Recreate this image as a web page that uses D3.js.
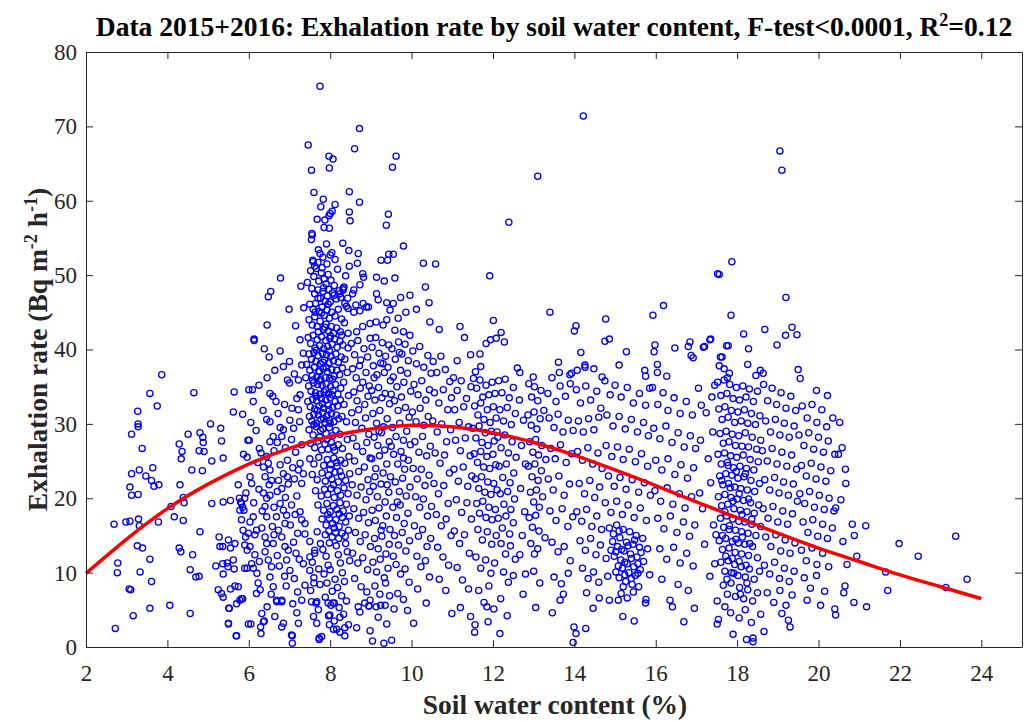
<!DOCTYPE html>
<html lang="en">
<head>
<meta charset="UTF-8">
<title>Exhalation rate by soil water content</title>
<script src="https://cdn.jsdelivr.net/npm/d3@7"></script>
<style>
  body { margin: 0; background: #fff; }
  svg text { font-family: "Liberation Serif", "Times New Roman", serif; }
  .axis .domain, .axis line { stroke: #262626; stroke-width: 1; }
  .axis text { fill: #262626; font-size: 23px; }
</style>
</head>
<body>
<div id="chart"></div>
<script>
// readings: [soil water content %, exhalation rate]
var ptsDry = [[3.86,36.6],[3.57,34.1],[4.65,34.2],[3.75,32.4],[3.27,31.7],[3.28,30.0],[3.28,29.6],[3.12,28.6],[3.38,26.7],[5.06,30.0],[5.31,29.4],[5.62,31.6],[5.85,31.3],[4.51,28.6],[4.8,28.8],[4.87,28.2],[4.88,27.5],[4.29,27.3],[4.36,26.3],[4.34,25.3],[4.78,26.4],[4.9,26.3],[5.33,27.7],[5.37,25.4],[5.09,25.0],[5.87,25.9],[5.96,25.5],[5.98,27.8],[6.0,34.6],[3.12,23.3],[3.31,23.8],[3.64,24.1],[3.47,23.0],[3.61,22.4],[3.67,21.6],[3.79,21.8],[3.08,21.5],[3.12,20.4],[3.28,20.5],[4.31,21.8],[4.6,23.8],[4.86,23.7],[4.39,20.1],[4.41,19.4],[4.09,18.9],[4.17,17.5],[4.39,17.0],[3.78,16.8],[2.69,16.5],[2.98,16.8],[3.08,16.9],[3.29,17.2],[3.31,16.3],[5.09,19.3],[5.37,19.5],[5.55,19.7],[4.8,15.5],[3.26,13.6],[3.39,13.3],[4.29,13.3],[4.33,12.8],[4.62,12.4],[3.57,11.8],[2.78,11.3],[2.77,10.0],[3.33,10.1],[3.61,8.8],[4.56,10.4],[4.7,9.4],[4.78,9.5],[3.06,7.8],[3.1,7.7],[3.57,5.2],[3.16,4.2],[2.72,2.5],[4.06,5.6],[4.56,4.5],[5.27,14.8],[5.5,14.4],[5.29,13.5],[5.36,13.5],[5.55,13.3],[5.19,10.9],[5.36,11.2],[5.47,11.3],[5.49,10.8],[5.64,10.5],[5.37,9.8],[5.25,7.7],[5.33,7.2],[5.37,6.7],[5.55,7.8],[5.66,8.2],[5.51,5.2],[5.7,5.8],[5.78,6.3],[5.85,6.5],[5.5,3.2],[5.69,1.5],[5.8,19.5],[5.85,18.8],[5.88,18.4],[5.9,20.0],[5.93,20.7],[5.82,17.1],[5.86,15.7],[5.92,14.8],[5.9,13.7],[5.96,13.0],[5.96,10.6],[5.66,13.9],[5.62,11.7],[5.74,8.1],[5.82,6.5],[5.9,10.6],[5.74,21.8],[5.77,20.0],[5.82,19.3],[5.78,18.4],[5.64,34.3],[5.5,3.1],[5.7,1.5],[5.52,5.2]];

var ptsRise = [[6.13,41.2],[6.38,40.1],[6.77,39.8],[6.85,37.7],[6.64,37.2],[6.45,36.2],[6.95,35.9],[7.0,35.5],[6.09,34.6],[6.11,33.0],[6.52,34.1],[6.59,33.7],[6.67,33.0],[6.44,30.6],[6.52,30.3],[7.01,30.5],[6.77,29.5],[6.85,29.2],[6.6,28.3],[6.52,27.6],[6.81,28.3],[6.01,27.8],[6.26,26.7],[6.44,25.6],[6.48,24.7],[6.36,24.2],[6.52,23.8],[6.4,22.9],[6.56,22.4],[6.5,21.8],[6.77,24.5],[6.85,23.3],[6.73,22.4],[6.95,22.9],[6.97,21.9],[6.81,21.3],[6.03,22.9],[6.07,22.0],[6.03,16.8],[6.11,17.5],[6.19,15.7],[5.99,15.3],[6.15,15.1],[6.32,16.0],[6.36,20.7],[6.44,20.0],[6.52,20.4],[6.4,18.9],[6.44,17.5],[6.77,19.3],[6.85,18.4],[6.93,17.7],[6.68,17.5],[6.89,16.6],[6.73,15.7],[6.81,14.8],[6.89,13.5],[6.6,13.9],[6.4,14.8],[6.44,13.9],[6.4,12.8],[6.48,11.7],[6.52,9.4],[6.56,10.8],[6.97,13.0],[6.93,11.7],[7.01,10.3],[6.03,13.5],[6.07,11.2],[6.11,10.6],[6.23,8.6],[6.28,7.7],[6.19,7.2],[6.32,4.5],[6.29,2.7],[6.36,3.4],[6.6,8.1],[6.68,6.3],[6.81,6.3],[6.85,3.2],[6.81,2.7],[6.64,4.1],[7.05,1.6],[7.07,0.5],[7.07,1.5],[7.22,3.2],[6.3,1.8],[6.38,3.5],[5.99,3.1],[6.05,3.1],[6.69,6.1],[6.81,6.1],[7.3,6.3],[7.38,8.3],[7.34,11.2],[7.38,16.6],[7.3,17.1],[7.26,18.2],[7.38,15.2],[7.3,22.0],[7.34,23.3],[7.26,24.7],[7.22,23.8],[7.3,27.2],[7.22,31.9],[7.26,33.9],[7.22,35.9],[7.3,37.9],[7.34,39.5],[7.26,41.3],[6.78,49.6],[6.54,47.8],[6.48,47.1],[6.99,45.4],[6.45,43.3],[6.13,41.4],[6.05,30.2],[6.18,29.1],[6.22,24.8],[6.3,26.1],[6.12,19.4],[6.25,21.2],[6.33,18.3],[6.15,12.4],[6.26,11.5],[6.2,9.9],[6.62,26.4],[6.7,27.5],[6.9,26.8],[6.95,25.1],[7.05,27.9],[7.1,29.4],[7.15,26.2],[7.08,24.1],[7.12,22.6],[7.18,20.3],[7.05,19.1],[7.14,17.8],[7.02,16.4],[7.2,15.3],[7.1,14.1],[7.16,12.6],[7.24,11.8],[7.12,9.2],[7.2,7.4],[7.08,5.8],[7.18,4.6],[6.58,16.2],[6.62,15.1],[6.7,12.3],[6.75,10.9],[6.88,9.5],[6.92,8.2],[6.55,7.1],[6.45,5.4],[6.7,20.9],[6.62,18.8],[6.9,20.1],[7.0,38.4],[7.12,36.7],[7.18,33.4],[7.06,32.1],[7.25,30.3],[7.15,43.2],[7.35,45.6],[7.28,48.5],[6.88,32.6],[6.72,31.4],[6.35,31.8],[6.25,35.2],[6.5,39.0]];

var ptsPeak = [[7.75,75.4],[7.46,67.5],[7.97,66.0],[8.07,65.6],[7.54,64.1],[7.98,64.4],[7.6,61.1],[8.47,61.2],[7.83,60.2],[7.77,59.2],[8.12,59.5],[8.0,58.3],[8.05,58.6],[7.97,58.0],[8.47,58.5],[8.49,57.3],[7.68,57.5],[7.87,57.4],[7.85,56.4],[7.98,56.3],[7.55,55.6],[7.56,55.4],[7.54,54.8],[7.57,52.0],[7.58,51.8],[7.71,53.4],[7.75,52.9],[7.91,54.2],[8.04,53.0],[8.0,52.7],[8.31,54.3],[8.46,53.3],[8.47,51.2],[8.34,48.4],[8.32,48.0],[8.24,47.5],[8.26,47.0],[8.43,46.9],[8.36,46.2],[8.44,45.5],[8.44,42.2],[8.28,41.9],
[7.52,50.6],[7.6,49.8],[7.66,50.9],[7.72,49.2],[7.78,50.3],[7.85,49.5],[7.9,48.8],[7.95,50.1],[8.02,49.3],[8.1,48.6],[7.55,48.2],[7.62,47.5],[7.7,48.0],[7.76,46.9],[7.82,47.8],[7.88,46.5],[7.93,47.2],[8.0,46.4],[8.06,47.6],[8.15,46.8],[8.22,47.9],[7.5,46.1],[7.58,45.4],[7.64,46.2],[7.73,45.1],[7.8,45.7],[7.86,44.6],[7.92,45.3],[7.98,44.2],[8.04,45.0],[8.12,44.5],[8.2,45.4],[8.28,44.1],[7.48,44.0],[7.56,43.3],[7.62,44.4],[7.68,43.1],[7.75,43.8],[7.83,42.7],[7.9,43.4],[7.96,42.5],[8.03,43.1],[8.08,42.2],[8.16,42.9],[8.25,42.4],[8.35,43.6],[8.4,45.8],[8.32,48.2],[8.38,49.9],[7.44,49.0],[7.7,51.7],[7.92,51.5],[8.18,50.8],[8.12,52.1],[7.82,52.4],
[7.46,41.6],[7.52,40.8],[7.58,41.9],[7.63,40.2],[7.68,41.3],[7.74,40.5],[7.79,41.7],[7.84,40.1],[7.89,41.2],[7.94,40.4],[7.99,41.5],[8.05,40.7],[8.11,41.4],[8.17,40.3],[8.24,41.1],[8.31,40.6],[7.48,39.4],[7.54,38.7],[7.6,39.6],[7.65,38.4],[7.7,39.2],[7.76,38.1],[7.81,39.5],[7.86,38.6],[7.91,39.3],[7.97,38.2],[8.02,39.1],[8.08,38.5],[8.14,39.4],[8.2,38.3],[8.27,39.0],[8.36,38.7],[7.5,37.2],[7.56,36.5],[7.61,37.6],[7.67,36.3],[7.72,37.1],[7.77,36.0],[7.83,37.4],[7.88,36.2],[7.93,37.0],[7.99,36.1],[8.04,37.3],[8.1,36.4],[8.16,37.2],[8.23,36.6],[8.3,37.5],[8.42,36.9],[7.47,35.1],[7.53,34.4],[7.59,35.5],[7.64,34.2],[7.69,35.3],[7.75,34.0],[7.8,35.2],[7.85,34.3],[7.9,35.4],[7.96,34.1],[8.01,35.0],[8.07,34.5],[8.13,35.3],[8.19,34.0],[8.26,34.8],[8.33,35.6],[7.45,33.0],[7.51,32.3],[7.57,33.3],[7.62,32.0],[7.67,33.1],[7.73,32.4],[7.78,33.4],[7.84,32.1],[7.89,33.2],[7.95,32.5],[8.0,33.5],[8.06,32.2],[8.12,33.0],[8.18,32.4],[8.25,33.2],[8.34,32.6],[7.49,31.0],[7.55,30.4],[7.6,31.3],[7.66,30.1],[7.71,31.2],[7.77,30.6],[7.82,31.5],[7.87,30.2],[7.92,31.1],[7.98,30.5],[8.03,31.4],[8.09,30.3],[8.15,31.2],[8.21,30.7],[8.29,31.0],[8.4,30.3],[8.45,33.8],[8.44,40.2],[7.42,38.0],[7.4,36.2],
[7.48,29.2],[7.58,28.5],[7.66,29.6],[7.74,28.2],[7.82,29.3],[7.9,28.7],[7.98,29.5],[8.06,28.4],[8.14,29.1],[8.24,28.6],[7.52,27.4],[7.62,26.8],[7.7,27.7],[7.79,26.5],[7.87,27.3],[7.95,26.6],[8.03,27.5],[8.11,26.4],[8.2,27.2],[8.3,26.7],[8.42,27.9],[7.5,25.3],[7.6,24.6],[7.72,25.5],[7.84,24.4],[7.93,25.2],[8.01,24.5],[8.09,25.4],[8.17,24.3],[8.26,25.1],[8.36,24.7],[8.46,25.6],[7.56,23.2],[7.68,22.5],[7.8,23.4],[7.88,22.3],[7.96,23.1],[8.04,22.6],[8.12,23.5],[8.2,22.2],[8.28,23.0],[8.38,22.4],[8.48,23.3],[7.64,21.0],[7.78,20.3],[7.86,21.2],[7.94,20.5],[8.02,21.3],[8.1,20.1],[8.18,21.0],[8.26,20.4],[8.34,21.4],[8.44,20.6],[7.7,19.1],[7.84,18.4],[7.92,19.3],[8.0,18.2],[8.08,19.0],[8.16,18.5],[8.24,19.4],[8.32,18.3],[8.4,19.2],[7.8,17.2],[7.9,16.4],[7.98,17.3],[8.06,16.6],[8.14,17.1],[8.22,16.2],[8.3,17.4],[8.38,16.8],[8.47,17.6],[7.88,15.1],[7.97,15.6],[8.05,14.8],[8.13,15.4],[8.21,14.6],[8.29,15.3],[8.37,14.9],[8.45,15.7],
[7.5,14.2],[7.62,12.6],[7.56,11.4],[7.72,10.5],[7.6,9.3],[7.75,8.4],[7.52,7.6],[7.67,6.1],[7.59,4.1],[7.71,5.0],[7.65,5.9],[7.73,1.2],[7.79,1.4],[7.67,3.2],[7.82,13.1],[7.9,12.2],[7.95,11.0],[7.85,9.8],[8.0,10.4],[7.92,8.6],[8.05,7.5],[7.88,6.7],[8.02,5.6],[7.96,4.2],[8.1,3.5],[8.15,13.6],[8.2,12.4],[8.25,11.3],[8.12,9.1],[8.3,10.0],[8.18,8.0],[8.35,8.8],[8.28,6.9],[8.22,5.3],[8.4,6.2],[8.33,4.4],[8.45,3.0],[8.42,12.8],[8.48,11.6],[8.38,13.9],[8.08,2.4],[8.24,2.0],[8.36,1.5],[7.98,14.0],[7.76,13.9],[7.98,3.0],[8.16,2.4],[8.24,4.0],[8.36,2.6],[7.73,1.0],[7.99,4.3],[8.07,5.9],[7.54,6.1],[7.95,5.9],[8.1,5.9],[7.5,12.1],[7.5,10.3],[7.6,8.6],[7.62,13.0],[7.68,15.5]];

var ptsMidA = [[8.72,69.7],[8.6,67.0],[8.69,52.9],[8.67,51.6],[8.82,49.7],[8.94,45.7],[8.73,45.2],[8.58,45.0],[9.62,66.0],[9.53,64.5],[9.43,58.2],[9.38,56.7],[9.25,52.0],[9.41,52.0],[9.44,52.8],[9.55,52.8],[9.8,53.9],[10.29,51.6],[10.59,51.5],[9.14,49.7],[9.33,49.2],[9.59,49.6],[10.34,48.4],[10.43,46.3],[9.96,47.3],[9.73,47.0],[10.45,43.7],[10.68,42.7],[10.12,45.4],[9.86,45.0],[8.72,59.8],[8.8,50.2],[8.58,48.0],[8.55,47.5],[8.73,48.7],[8.63,46.0],[8.81,46.2],[8.89,45.7],[9.14,47.5],[9.18,46.7],[9.39,46.3],[9.55,46.2],[9.47,45.3],[9.67,44.2],[9.39,44.0],[9.13,43.7],[8.98,43.5],[8.8,43.1],[8.65,42.4],[9.59,42.6],[9.8,42.4],[9.96,41.9],[9.3,43.3],[8.65,2.6],[8.69,5.4],[8.73,4.7],
[8.52,40.8],[8.6,39.3],[8.68,41.2],[8.75,38.6],[8.83,40.1],[8.92,39.0],[8.98,41.5],[8.55,37.4],[8.64,36.2],[8.72,37.8],[8.8,35.6],[8.88,36.9],[8.96,35.1],[8.58,34.3],[8.66,33.1],[8.74,34.8],[8.85,32.6],[8.93,33.7],[8.53,31.5],[8.62,30.2],[8.7,31.9],[8.78,29.4],[8.87,30.8],[8.95,28.6],[8.56,28.1],[8.65,27.0],[8.8,26.3],[8.9,27.5],[8.98,25.4],[8.6,25.0],[8.7,23.6],[8.84,24.2],[8.93,22.5],[8.54,21.8],[8.66,20.4],[8.76,21.5],[8.88,19.8],[8.97,20.9],[8.58,18.6],[8.7,17.3],[8.82,18.1],[8.94,16.7],[8.62,15.4],[8.74,14.2],[8.86,15.1],[8.99,13.5],[8.55,12.6],[8.68,11.3],[8.8,12.0],[8.92,10.4],[8.6,9.2],[8.76,8.1],[8.9,7.4],[8.85,5.9],[8.98,6.3],[8.95,5.5],
[9.03,40.3],[9.12,41.6],[9.2,39.5],[9.28,40.9],[9.36,39.1],[9.44,40.6],[9.06,37.8],[9.15,36.6],[9.24,38.2],[9.33,36.9],[9.42,37.6],[9.48,35.8],[9.02,34.5],[9.1,33.2],[9.19,34.9],[9.27,33.5],[9.35,34.1],[9.46,32.7],[9.05,31.4],[9.14,30.1],[9.22,31.8],[9.31,29.6],[9.4,30.7],[9.08,28.2],[9.17,27.1],[9.26,28.8],[9.34,26.5],[9.45,27.6],[9.02,25.3],[9.12,24.0],[9.21,25.7],[9.3,23.4],[9.39,24.6],[9.48,22.9],[9.06,21.6],[9.16,20.2],[9.25,21.9],[9.35,19.5],[9.44,20.8],[9.03,18.4],[9.11,17.0],[9.2,18.7],[9.29,16.3],[9.38,17.6],[9.47,15.8],[9.09,14.6],[9.18,13.2],[9.27,14.9],[9.37,12.5],[9.45,13.8],[9.05,11.4],[9.14,10.1],[9.23,11.8],[9.33,9.3],[9.42,10.6],[9.1,8.2],[9.22,7.1],[9.36,8.6],[9.46,6.9],[9.13,5.4],[9.24,5.6],[9.35,5.6],[8.98,2.2],[9.04,0.8],[9.32,0.5],[9.51,0.9],[9.18,4.0],[9.39,3.1],[8.95,5.5],
[9.52,40.1],[9.6,38.7],[9.68,41.0],[9.76,39.4],[9.84,40.7],[9.92,38.5],[9.55,36.3],[9.64,35.0],[9.73,37.2],[9.81,35.6],[9.9,36.8],[9.98,34.4],[9.58,33.1],[9.67,31.8],[9.75,33.6],[9.85,32.2],[9.94,30.9],[9.53,29.5],[9.62,28.3],[9.71,30.1],[9.8,27.8],[9.88,29.0],[9.97,27.2],[9.56,25.9],[9.66,24.6],[9.74,26.3],[9.83,23.9],[9.92,25.1],[9.6,22.2],[9.7,20.9],[9.78,22.7],[9.87,20.3],[9.96,21.5],[9.54,18.8],[9.63,17.4],[9.72,19.1],[9.82,16.6],[9.91,18.0],[9.58,15.0],[9.68,13.7],[9.77,15.4],[9.86,12.9],[9.95,14.3],[9.62,11.1],[9.73,9.8],[9.84,10.5],[9.94,8.7],[9.66,7.2],[9.8,6.4],[9.9,4.9],[9.57,5.1],
[10.03,39.8],[10.12,38.1],[10.2,40.4],[10.3,37.6],[10.4,39.2],[10.48,36.8],[10.06,35.3],[10.16,33.9],[10.25,35.8],[10.35,33.2],[10.44,34.6],[10.02,31.6],[10.11,30.3],[10.21,32.1],[10.3,29.8],[10.41,31.0],[10.08,27.6],[10.18,26.2],[10.27,28.3],[10.37,25.7],[10.46,27.0],[10.04,24.0],[10.14,22.6],[10.24,23.9],[10.33,21.7],[10.43,23.1],[10.1,20.2],[10.2,18.8],[10.29,19.9],[10.39,17.6],[10.49,18.9],[10.07,16.3],[10.17,14.9],[10.27,15.8],[10.38,13.5],[10.47,14.6],[10.13,12.2],[10.23,10.8],[10.34,11.6],[10.44,9.4],[10.15,7.8],[10.36,5.9],[10.05,3.2],
[10.53,38.4],[10.62,36.9],[10.72,39.1],[10.83,37.3],[10.94,35.7],[10.56,34.2],[10.67,32.8],[10.78,34.6],[10.89,31.9],[10.98,33.5],[10.52,30.4],[10.63,28.9],[10.74,30.0],[10.86,27.6],[10.96,29.2],[10.58,26.1],[10.7,24.7],[10.81,25.8],[10.93,23.4],[10.55,22.0],[10.66,20.6],[10.79,21.7],[10.9,19.3],[10.61,17.8],[10.73,16.3],[10.85,17.2],[10.97,15.0],[10.64,13.4],[10.77,12.1],[10.91,11.0],[10.68,9.1],[10.84,7.6],[10.99,4.5]];

var ptsMidB = [[11.19,43.1],[11.92,49.9],[12.39,57.1],[13.1,63.3],[13.4,45.0],[12.01,43.9],[11.83,40.8],[11.94,41.3],[12.08,41.5],[11.68,39.4],[11.7,37.7],[11.57,37.0],[13.61,38.3],[13.63,36.9],[12.66,36.9],[12.99,36.3],[13.89,36.6],[13.93,36.8],[11.3,41.6],[11.45,39.3],[11.12,38.5],[12.2,42.3],[12.28,41.0],
[11.03,36.2],[11.12,34.5],[11.22,35.8],[11.35,33.4],[11.46,35.0],[11.06,31.9],[11.17,30.2],[11.28,32.3],[11.4,29.6],[11.08,27.8],[11.2,26.4],[11.32,28.1],[11.44,25.7],[11.04,23.9],[11.15,22.3],[11.27,24.2],[11.38,21.6],[11.48,23.0],[11.1,19.8],[11.23,18.1],[11.36,19.4],[11.47,17.2],[11.05,15.6],[11.18,13.9],[11.3,15.1],[11.42,12.6],[11.12,10.7],[11.25,9.0],[11.4,7.8],[11.2,5.3],[11.45,4.1],
[11.52,36.1],[11.6,34.8],[11.68,35.9],[11.75,33.6],[11.83,35.2],[11.9,33.9],[11.98,35.6],[12.05,34.1],[11.55,32.4],[11.63,31.2],[11.7,32.8],[11.78,30.6],[11.86,31.9],[11.93,30.2],[12.01,32.3],[12.08,30.8],[11.5,29.4],[11.58,28.1],[11.66,29.7],[11.73,27.5],[11.81,28.8],[11.88,27.1],[11.96,29.0],[12.03,27.7],[12.1,28.9],[11.54,26.0],[11.62,24.8],[11.7,26.3],[11.77,24.2],[11.85,25.6],[11.92,24.0],[12.0,25.9],[12.07,24.5],[11.57,22.6],[11.65,21.3],[11.72,22.9],[11.8,20.8],[11.87,22.2],[11.95,20.5],[12.02,22.0],[12.1,21.1],[11.6,19.3],[11.67,18.0],[11.75,19.6],[11.83,17.4],[11.9,18.8],[11.98,17.1],[12.06,18.5],[11.63,15.8],[11.74,14.4],[11.86,15.5],[11.97,13.8],[12.08,15.0],[11.58,12.1],[11.7,10.6],[11.82,11.7],[11.95,9.9],[12.04,11.3],[11.65,7.6],[11.78,6.0],[11.9,8.2],[12.02,5.1],[11.55,2.0],[11.88,3.4],[11.56,3.0],[11.85,5.4],
[12.14,35.8],[12.22,34.2],[12.3,36.0],[12.4,33.5],[12.5,34.9],[12.17,31.9],[12.26,30.4],[12.35,32.2],[12.45,29.9],[12.55,31.4],[12.12,28.2],[12.2,26.8],[12.29,28.5],[12.38,26.1],[12.47,27.6],[12.57,25.5],[12.15,24.3],[12.24,22.8],[12.33,24.6],[12.42,22.1],[12.51,23.4],[12.18,20.6],[12.27,19.2],[12.36,20.9],[12.44,18.5],[12.53,19.9],[12.13,17.3],[12.23,16.0],[12.32,17.6],[12.41,15.2],[12.5,16.7],[12.2,13.9],[12.31,12.5],[12.43,13.6],[12.55,11.8],[12.26,10.1],[12.38,8.7],[12.5,9.6],[12.17,1.8],[12.19,6.5],[12.35,4.2],[12.6,37.5],
[12.65,33.2],[12.75,30.5],[12.7,27.1],[12.8,24.6],[12.68,21.3],[12.78,18.2],[12.72,15.0],[12.66,12.4],[12.8,9.8],[12.74,7.1],[12.88,35.4],[12.95,33.6],[13.02,35.0],[13.1,33.1],[13.18,34.5],[12.86,31.2],[12.94,29.8],[13.01,31.6],[13.08,29.3],[13.16,30.7],[12.9,27.6],[12.98,26.2],[13.05,27.9],[13.12,25.8],[13.2,27.1],[12.87,24.3],[12.96,22.9],[13.03,24.6],[13.11,22.4],[13.19,23.7],[12.92,20.8],[13.0,19.5],[13.07,21.1],[13.14,18.8],[13.22,20.2],[12.89,17.4],[12.97,16.1],[13.05,17.7],[13.13,15.6],[12.93,13.9],[13.02,12.5],[13.1,13.2],[13.0,10.2],[13.15,8.6],[13.05,5.3],[13.28,14.7],[13.3,25.2],[13.25,31.8],
[13.35,34.1],[13.45,36.2],[13.55,33.0],[13.65,35.1],[13.78,33.7],[13.9,35.4],[13.38,30.8],[13.5,29.5],[13.6,31.3],[13.72,28.9],[13.85,30.5],[13.97,29.1],[13.42,26.7],[13.53,25.3],[13.66,27.2],[13.8,24.8],[13.93,26.0],[13.36,22.6],[13.48,21.1],[13.62,23.0],[13.75,20.4],[13.88,21.9],[13.4,18.3],[13.55,17.0],[13.7,18.6],[13.84,16.2],[13.96,17.5],[13.45,14.1],[13.6,12.8],[13.75,13.5],[13.9,11.6],[13.5,9.4],[13.68,8.5],[13.85,9.9],[13.46,4.6],[13.65,6.3],[13.73,7.1]];

var ptsMidC = [[14.22,71.4],[14.04,43.2],[14.0,42.5],[14.77,44.1],[15.93,44.6],[16.19,45.9],[14.75,41.1],[14.86,41.4],[14.16,39.6],[15.28,39.7],[15.1,37.9],[15.98,40.6],[15.96,39.7],[16.04,38.0],[16.04,36.9],[15.73,37.2],[15.75,36.4],[16.27,36.4],[16.47,40.2],[16.8,40.4],[16.84,41.0],[16.87,39.2],[16.92,38.9],[14.07,37.2],[14.26,37.9],[14.26,37.6],[14.48,37.4],[14.68,36.3],
[14.05,34.6],[14.15,32.8],[14.28,35.1],[14.4,33.2],[14.55,34.4],[14.65,32.1],[14.1,30.4],[14.22,28.9],[14.35,30.7],[14.48,29.2],[14.6,30.9],[14.08,26.3],[14.2,25.1],[14.33,26.8],[14.45,24.6],[14.58,26.1],[14.68,24.0],[14.12,22.0],[14.25,20.6],[14.38,22.4],[14.5,20.1],[14.62,21.5],[14.06,18.2],[14.18,16.9],[14.3,18.5],[14.43,16.2],[14.55,17.6],[14.67,15.8],[14.14,14.3],[14.27,13.0],[14.4,14.6],[14.53,12.4],[14.64,13.7],[14.2,10.6],[14.34,9.2],[14.47,10.1],[14.6,8.7],[14.3,7.3],[13.99,2.7],[14.04,1.8],[13.97,0.6],[14.28,2.5],[14.46,5.2],[14.61,6.6],
[14.75,35.8],[14.88,33.9],[15.0,35.2],[15.15,33.6],[15.3,34.9],[15.45,32.8],[15.6,34.1],[15.75,32.5],[15.85,34.8],[14.8,31.2],[14.95,29.7],[15.1,31.0],[15.25,29.3],[15.4,30.6],[15.55,28.9],[15.7,30.2],[15.82,28.4],[14.78,27.1],[14.92,25.6],[15.06,26.9],[15.2,25.2],[15.35,26.6],[15.5,24.9],[15.65,26.0],[15.8,24.3],[14.84,23.0],[14.98,21.6],[15.12,22.8],[15.27,21.2],[15.42,22.5],[15.58,20.8],[15.72,22.1],[15.87,20.4],[14.76,19.4],[14.9,18.1],[15.04,19.6],[15.18,17.8],[15.32,19.1],[15.47,17.4],[15.62,18.7],[15.77,17.0],[14.86,16.0],[14.96,15.2],[15.04,16.4],[15.12,14.7],[15.2,15.8],[15.28,14.1],[15.36,15.5],[15.44,13.8],[15.52,15.0],[15.6,13.4],[15.68,14.6],[14.9,13.0],[14.98,12.2],[15.06,13.5],[15.14,11.7],[15.22,12.9],[15.3,11.2],[15.38,12.5],[15.46,10.8],[15.54,12.1],[15.62,10.4],[15.02,10.1],[15.1,9.3],[15.18,10.6],[15.26,8.8],[15.34,10.0],[15.42,8.4],[15.5,9.6],[15.58,8.1],[15.15,7.2],[15.3,6.6],[15.45,7.4],[14.86,6.3],[15.08,6.3],[15.19,4.1],[15.47,3.5],[15.75,5.9],[15.76,6.4],[15.7,11.5],[15.8,13.2],[15.85,9.7],[14.82,9.5],[14.78,11.9],
[15.92,34.9],[16.05,32.6],[16.18,34.2],[16.3,31.8],[16.45,33.5],[16.6,31.4],[16.75,33.0],[16.9,31.2],[15.95,29.4],[16.1,28.0],[16.25,29.7],[16.4,27.5],[16.55,28.8],[16.7,26.9],[16.85,28.4],[16.98,26.7],[16.0,25.1],[16.15,23.8],[16.3,25.3],[16.47,23.2],[16.62,24.5],[16.78,22.7],[16.93,24.1],[15.98,21.0],[16.12,19.6],[16.28,21.4],[16.42,19.2],[16.58,20.6],[16.72,18.7],[16.88,20.2],[16.05,17.3],[16.2,15.9],[16.36,17.6],[16.52,15.4],[16.68,16.8],[16.83,14.9],[16.96,16.4],[16.1,13.2],[16.27,11.8],[16.44,13.4],[16.6,11.3],[16.76,12.6],[16.92,10.9],[16.15,9.1],[16.35,6.3],[16.41,5.4],[16.55,8.4],[16.69,3.4],[16.8,7.6],[16.95,5.2]];

var ptsWet = [[17.52,50.2],[19.05,66.7],[19.1,64.1],[17.87,51.8],[17.56,50.1],[19.2,47.0],[17.85,44.6],[18.16,42.1],[18.68,42.7],[19.19,41.9],[19.35,43.0],[19.47,42.0],[18.98,40.6],[17.17,40.3],[17.33,41.3],[17.74,40.5],[17.78,40.5],[18.28,40.1],[17.63,39.0],[17.56,37.8],[17.68,37.4],[17.81,36.8],[17.76,36.2],[18.26,38.0],[18.57,37.2],[18.64,36.8],[18.46,36.5],[19.5,37.3],[17.2,40.4],[17.35,41.4],[17.59,39.0],
[17.05,34.8],[17.12,32.5],[17.24,31.5],[17.38,33.6],[17.45,35.2],[17.29,25.3],[17.1,27.8],[17.4,28.9],[17.08,20.7],[17.15,18.6],[17.35,22.1],[17.42,16.4],[17.2,13.8],[17.33,9.5],[17.45,11.2],[17.51,6.2],[17.54,3.7],[17.51,3.1],[17.48,15.1],
[17.52,35.6],[17.6,33.8],[17.68,35.9],[17.75,34.1],[17.82,35.3],[17.9,33.4],[17.98,34.9],[18.06,33.2],[18.14,35.1],[18.22,33.6],[18.3,34.7],[18.4,33.0],[18.5,34.4],[17.55,32.0],[17.63,30.6],[17.7,32.3],[17.78,30.9],[17.86,31.8],[17.94,30.2],[18.02,31.6],[18.1,30.4],[18.18,31.9],[18.26,30.1],[18.35,31.4],[18.45,29.9],[18.56,31.1],[17.58,28.7],[17.66,27.4],[17.73,29.0],[17.8,27.6],[17.88,28.6],[17.96,27.1],[18.04,28.4],[18.12,27.0],[18.2,28.8],[18.28,26.9],[18.37,28.2],[18.48,26.6],[18.58,27.8],[17.53,25.9],[17.61,24.6],[17.69,26.1],[17.76,24.8],[17.84,25.7],[17.91,24.1],[17.99,25.5],[18.07,24.3],[18.15,25.8],[18.23,24.0],[18.32,25.2],[18.41,23.8],[18.52,24.9],[17.57,23.0],[17.65,21.8],[17.72,23.3],[17.79,22.0],[17.87,23.1],[17.94,21.5],[18.02,22.7],[18.09,21.3],[18.17,22.9],[18.25,21.1],[18.34,22.4],[18.43,20.9],[18.55,22.0],[17.54,20.2],[17.62,19.0],[17.7,20.5],[17.77,19.2],[17.85,20.1],[17.92,18.6],[18.0,19.9],[18.08,18.4],[18.16,19.7],[18.24,18.2],[18.33,19.4],[18.42,18.0],[18.53,19.1],[17.59,17.3],[17.67,16.1],[17.74,17.6],[17.81,16.3],[17.89,17.2],[17.96,15.7],[18.04,16.9],[18.11,15.5],[18.19,16.8],[18.27,15.3],[18.36,16.5],[18.46,15.0],[18.58,16.2],[17.56,14.3],[17.64,13.1],[17.72,14.6],[17.8,13.3],[17.88,14.2],[17.95,12.7],[18.03,14.0],[18.11,12.5],[18.19,13.8],[18.28,12.3],[18.38,13.5],[18.5,12.0],[17.6,11.4],[17.7,10.2],[17.78,11.6],[17.86,10.0],[17.94,11.1],[18.02,9.6],[18.1,10.8],[18.2,9.4],[18.3,10.5],[18.42,9.1],[18.55,10.2],[17.66,8.3],[17.76,7.1],[17.85,8.6],[17.96,6.8],[18.06,8.0],[18.16,6.5],[18.26,7.7],[18.38,6.2],[18.5,7.3],[17.7,5.4],[17.9,1.7],[17.84,4.6],[18.05,3.9],[18.2,5.0],[18.39,1.2],[18.23,1.0],[18.39,0.7],[18.35,3.3],[18.58,4.4],
[18.65,35.3],[18.75,33.1],[18.86,34.8],[18.97,32.6],[19.08,34.2],[19.2,32.1],[19.32,33.7],[19.44,31.8],[18.7,30.4],[18.82,28.9],[18.94,30.6],[19.05,28.5],[19.16,30.1],[19.28,28.2],[19.4,29.7],[18.62,26.4],[18.74,25.0],[18.86,26.7],[18.98,24.6],[19.1,26.2],[19.22,24.3],[19.34,25.8],[19.46,23.9],[18.68,22.5],[18.8,21.1],[18.92,22.8],[19.03,20.7],[19.14,22.2],[19.26,20.4],[19.38,21.9],[19.48,19.6],[18.64,18.6],[18.76,17.3],[18.88,18.9],[19.0,16.8],[19.12,18.3],[19.24,16.5],[19.36,17.9],[18.7,14.8],[18.83,13.5],[18.95,15.1],[19.07,12.9],[19.18,14.4],[19.3,12.6],[19.42,14.0],[18.67,11.0],[18.8,9.8],[18.92,11.4],[19.04,9.2],[19.16,10.6],[19.28,8.8],[19.4,10.2],[18.74,7.3],[18.9,6.0],[19.05,7.6],[19.2,5.6],[19.35,7.0],[19.26,3.6],[19.3,2.7],[19.1,4.5],[18.66,2.1],
[19.55,36.1],[19.95,34.5],[20.22,33.8],[19.6,32.4],[19.72,30.8],[19.84,32.6],[19.96,30.2],[20.08,31.9],[20.2,29.6],[20.35,30.8],[19.52,28.5],[19.64,27.1],[19.76,28.8],[19.88,26.6],[20.0,28.2],[20.12,26.2],[20.24,27.7],[20.4,25.9],[19.58,24.4],[19.7,23.0],[19.82,24.7],[19.94,22.6],[20.06,24.2],[20.18,22.3],[20.3,23.7],[20.49,25.9],[19.54,20.6],[19.66,19.3],[19.78,20.9],[19.9,18.8],[20.02,20.4],[20.14,18.5],[20.26,20.0],[20.38,18.3],[20.42,18.7],[19.62,16.8],[19.74,15.4],[19.86,17.1],[19.98,14.9],[20.1,16.5],[20.22,14.6],[20.34,16.0],[19.58,13.0],[19.7,11.6],[19.84,13.3],[19.96,11.1],[20.1,12.6],[20.25,10.8],[19.65,9.3],[19.8,7.9],[19.95,9.6],[20.15,7.5],[19.72,6.3],[20.05,5.6],[20.4,5.1],[20.42,4.3],
[20.66,23.9],[20.67,22.0],[20.65,8.2],[20.62,7.3],[20.87,6.0],[21.18,5.4],[20.83,16.5],[20.88,15.0],[20.94,12.2],[21.16,16.3],[21.98,13.9],[22.45,12.2],[23.37,14.9],[23.65,9.1],[23.13,8.0],[21.7,7.6],[21.65,10.1],[20.55,19.8],[20.6,14.2],[20.7,11.1],[20.58,26.8],[20.52,30.2]];

// extra readings from the densest clusters
var ptsCore = [[7.63,45.0],[7.71,42.4],[7.79,44.9],[7.87,43.0],[7.95,46.1],[8.01,41.8],[7.66,39.9],[7.74,37.0],[7.82,38.3],[7.9,37.6],[7.98,39.8],[8.06,36.0],[7.57,35.9],[7.65,33.7],[7.73,35.8],[7.81,32.7],[7.89,34.6],[7.97,31.9],[8.05,33.9],[7.6,29.9],[7.68,31.8],[7.76,29.1],[7.84,30.7],[7.92,27.9],[8.0,30.1],[8.08,26.9],[7.7,46.9],[7.84,48.3],[7.96,48.1],[8.1,47.3],[7.62,51.2],[7.8,51.0],[8.16,24.8],[8.24,23.6],[8.0,23.9],[8.08,21.8],[8.22,17.9],[8.1,16.0],[7.94,17.8],
[17.62,22.4],[17.7,18.2],[17.78,24.4],[17.83,21.4],[17.9,19.6],[17.98,23.6],[18.05,20.6],[18.12,17.8],[18.2,23.3],[18.28,19.9],[18.36,17.2],[17.64,15.0],[17.72,12.2],[17.8,15.8],[17.88,11.9],[17.97,14.5],[18.05,11.5],[18.13,14.8],[18.22,11.0],[18.31,13.9],[17.75,9.1],[17.92,9.9],[18.08,7.1],[18.24,8.6],
[14.94,14.2],[15.02,12.8],[15.1,15.6],[15.16,13.1],[15.24,11.4],[15.32,13.6],[15.4,11.9],[15.48,14.4],[15.56,11.2],[15.64,12.7],[15.08,10.9],[15.24,9.7],[15.4,9.2],[15.56,9.9],[15.2,8.1],
[9.08,36.2],[9.3,38.1],[9.5,34.0],[9.7,39.6],[9.2,29.0],[9.5,27.0],[9.1,22.9],[9.4,21.8],[9.65,19.5],[9.25,15.7],[9.55,12.2],[9.8,25.4]];

// fitted curve read at whole percents
var fitX = [2,3,4,5,6,7,8,9,10,11,12,13,14,15,16,17,18,19,20,21,22,23,24];
var fitY = [9.9,14.5,18.6,21.9,24.6,26.7,28.3,29.3,29.8,29.6,28.8,27.5,25.8,23.8,21.7,19.5,17.4,15.3,13.3,11.5,9.7,8.1,6.5];

var xTicks = [2,4,6,8,10,12,14,16,18,20,22,24];
var yTicks = [0,10,20,30,40,50,60,70,80];

var w = 1024, h = 722;
var padL = 86, padR = 1022, padT = 52, padB = 647;

var svg = d3.select('#chart').append('svg')
  .attr('width', w).attr('height', h)
  .style('background', '#fff');

var xScale = d3.scaleLinear().domain([2, 25]).range([padL, padR]);
var yScale = d3.scaleLinear().domain([0, 80]).range([padB, padT]);

var allPts = [].concat(ptsDry, ptsRise, ptsPeak, ptsMidA, ptsMidB, ptsMidC, ptsWet, ptsCore);

svg.append('g')
  .selectAll('circle')
  .data(allPts)
  .enter().append('circle')
  .attr('cx', d => xScale(d[0]))
  .attr('cy', d => yScale(d[1]))
  .attr('r', 3.1)
  .attr('fill', 'none')
  .attr('stroke', '#0000ff')
  .attr('stroke-width', 1.3);

var fit = fitX.map((v, i) => [v, fitY[i]]);
var line = d3.line()
  .x(d => xScale(d[0]))
  .y(d => yScale(d[1]))
  .curve(d3.curveNatural);

svg.append('path')
  .datum(fit)
  .attr('d', line)
  .attr('fill', 'none')
  .attr('stroke', '#ff0000')
  .attr('stroke-width', 3.5);

// axes, ticks point inward like matlab
svg.append('g').attr('class', 'x axis')
  .attr('transform', 'translate(0,' + padB + ')')
  .call(d3.axisBottom(xScale).tickValues(xTicks).tickSizeInner(-7).tickSizeOuter(0).tickPadding(18));

svg.append('g').attr('class', 'axis')
  .attr('transform', 'translate(0,' + padT + ')')
  .call(d3.axisTop(xScale).tickValues(xTicks).tickSizeInner(-7).tickSizeOuter(0).tickFormat(''));

svg.append('g').attr('class', 'y axis')
  .attr('transform', 'translate(' + padL + ',0)')
  .call(d3.axisLeft(yScale).tickValues(yTicks).tickSizeInner(-7).tickSizeOuter(0).tickPadding(9));

svg.append('g').attr('class', 'axis')
  .attr('transform', 'translate(' + padR + ',0)')
  .call(d3.axisRight(yScale).tickValues(yTicks).tickSizeInner(-7).tickSizeOuter(0).tickFormat(''));

svg.selectAll('.axis text').attr('font-family', '"Liberation Serif", serif');

// title
var title = svg.append('text')
  .attr('x', (padL + padR) / 2)
  .attr('y', 36)
  .attr('text-anchor', 'middle')
  .attr('font-size', '27.5px')
  .attr('font-weight', 'bold')
  .attr('fill', '#000');
title.append('tspan').text('Data 2015+2016: Exhalation rate by soil water content, F-test<0.0001, R');
title.append('tspan').attr('dy', -10).attr('font-size', '18px').text('2');
title.append('tspan').attr('dy', 10).text('=0.12');

// x label
svg.append('text')
  .attr('x', 555)
  .attr('y', 714)
  .attr('text-anchor', 'middle')
  .attr('font-size', '27.5px')
  .attr('font-weight', 'bold')
  .attr('fill', '#262626')
  .text('Soil water content (%)');

// y label
var ylab = svg.append('text')
  .attr('transform', 'translate(47,' + ((padT + padB) / 2) + ') rotate(-90)')
  .attr('text-anchor', 'middle')
  .attr('font-size', '27.5px')
  .attr('font-weight', 'bold')
  .attr('fill', '#262626');
ylab.append('tspan').text('Exhalation rate (Bq m');
ylab.append('tspan').attr('dy', -10).attr('font-size', '18px').text('-2');
ylab.append('tspan').attr('dy', 10).text(' h');
ylab.append('tspan').attr('dy', -10).attr('font-size', '18px').text('-1');
ylab.append('tspan').attr('dy', 10).text(')');
</script>
</body>
</html>
